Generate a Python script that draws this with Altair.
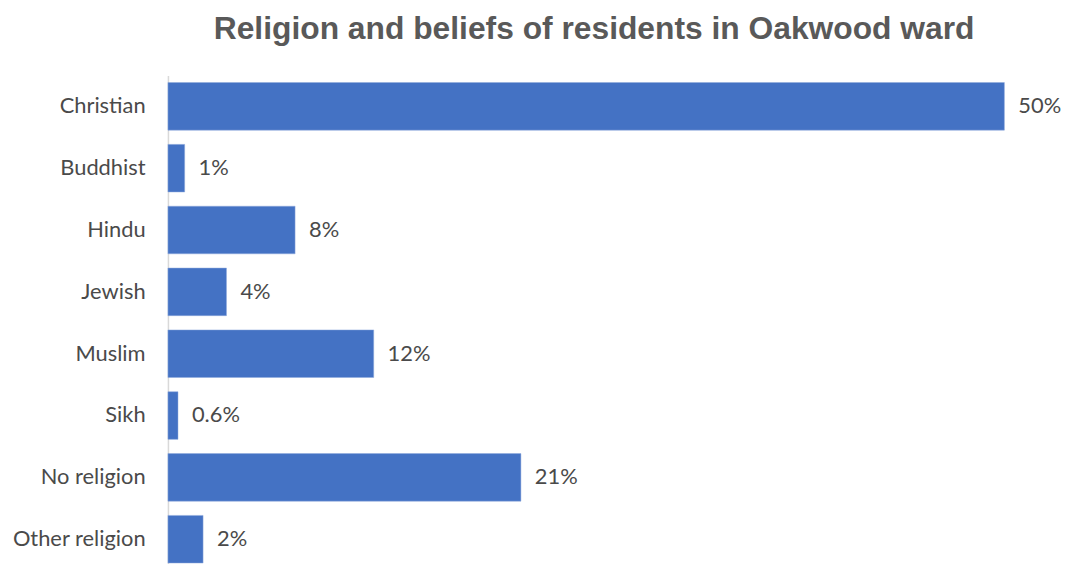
import altair as alt
import pandas as pd

categories = ["Christian", "Buddhist", "Hindu", "Jewish", "Muslim", "Sikh", "No religion", "Other religion"]
values = [50.0, 1.0, 7.6, 3.5, 12.3, 0.6, 21.1, 2.1]
labels = ["50%", "1%", "8%", "4%", "12%", "0.6%", "21%", "2%"]

df = pd.DataFrame({"religion": categories, "value": values, "label": labels})

FONT = "Lato"
TEXT = "#4a4a4a"

y = alt.Y("religion:N", sort=categories, title=None,
          scale=alt.Scale(paddingInner=0.23, paddingOuter=0.115),
          axis=alt.Axis(ticks=False, domainColor="#D9D9D9", domainWidth=1.5,
                        labelPadding=23, labelFont=FONT, labelFontSize=22,
                        labelColor=TEXT, labelLimit=300))
x = alt.X("value:Q", title=None, scale=alt.Scale(domain=[0, 50], nice=False),
          axis=None)

bars = alt.Chart(df).mark_bar(color="#4472C4", stroke="#8FAADC", strokeWidth=0.5).encode(x=x, y=y)
text = alt.Chart(df).mark_text(align="left", dx=14, font=FONT, fontSize=22, color=TEXT).encode(
    x=x, y=alt.Y("religion:N", sort=categories), text="label:N")

chart = (bars + text).properties(
    width=842, height=498,
    title=alt.TitleParams("Religion and beliefs of residents in Oakwood ward",
                          font="Liberation Sans", fontSize=32, fontWeight="bold",
                          color="#595959", offset=30, anchor="middle", dx=8),
    padding={"left": 3, "top": 3, "right": 0, "bottom": 0},
).configure_view(stroke=None)

chart.save("out.html", embed_options={"renderer": "svg", "actions": False})
